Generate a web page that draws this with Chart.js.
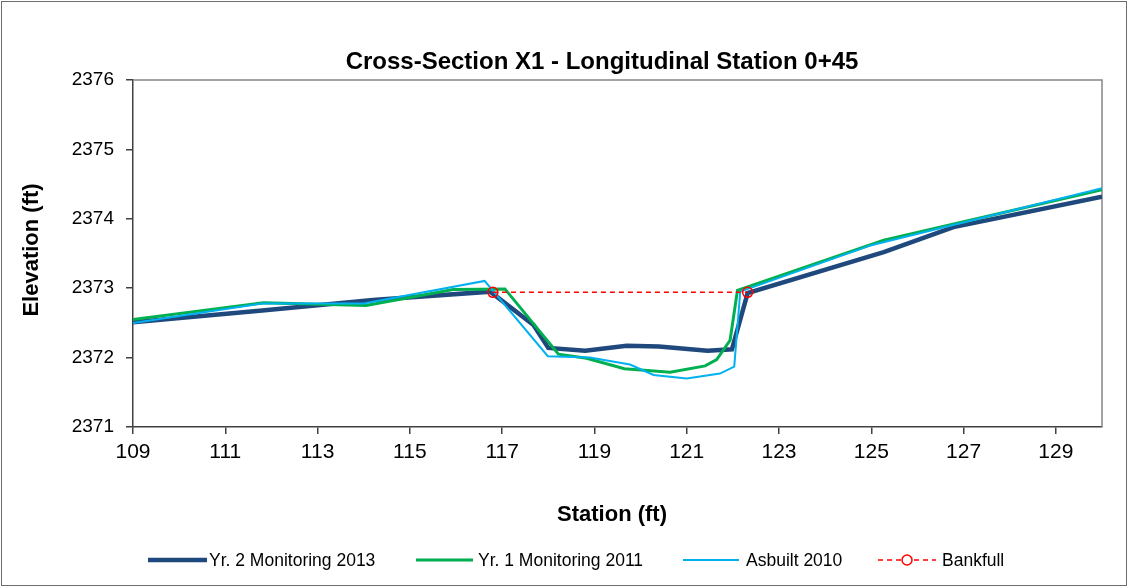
<!DOCTYPE html>
<html>
<head>
<meta charset="utf-8">
<script src="https://cdn.jsdelivr.net/npm/chart.js@4/dist/chart.umd.min.js"></script>
<style>
  html, body { margin: 0; padding: 0; background: #fff; }
  canvas { display: block; }
</style>
</head>
<body>
<canvas id="myChart" width="1128" height="587"></canvas>
<script>
// station (ft) / elevation (ft)
const yr2Station = [109, 111.8, 114.2, 116.74, 117.68, 118.0, 118.8, 119.7, 120.4, 121.45, 121.98, 122.32, 125.27, 126.78, 130];
const yr2Elev    = [2372.51, 2372.68, 2372.83, 2372.95, 2372.47, 2372.14, 2372.10, 2372.17, 2372.16, 2372.10, 2372.12, 2372.93, 2373.52, 2373.88, 2374.32];

const yr1Station = [109, 111.83, 114.05, 115.94, 117.06, 118.22, 118.83, 119.65, 120.64, 121.4, 121.65, 121.94, 122.1, 125.27, 130];
const yr1Elev    = [2372.55, 2372.79, 2372.75, 2372.98, 2372.99, 2372.05, 2371.99, 2371.84, 2371.79, 2371.88, 2371.97, 2372.25, 2372.97, 2373.69, 2374.42];

const asbuiltStation = [109, 111.8, 114.0, 116.62, 117.99, 118.9, 119.77, 120.28, 121.0, 121.72, 122.03, 122.16, 125.0, 130];
const asbuiltElev    = [2372.50, 2372.78, 2372.78, 2373.105, 2372.02, 2372.00, 2371.90, 2371.75, 2371.70, 2371.77, 2371.87, 2372.95, 2373.62, 2374.44];

const bankfullStation = [116.8, 122.32];
const bankfullElev    = [2372.94, 2372.94];

const xTicks = [109, 111, 113, 115, 117, 119, 121, 123, 125, 127, 129];
const yTicks = [2371, 2372, 2373, 2374, 2375, 2376];

const seriesNames = ["Yr. 2 Monitoring 2013", "Yr. 1 Monitoring 2011", "Asbuilt 2010", "Bankfull"];

const FONT = "'Liberation Sans', Arial, sans-serif";

function pts(xs, ys) {
    const out = [];
    for (let i = 0; i < xs.length; i++) out.push({x: xs[i], y: ys[i]});
    return out;
}

const extras = {
    id: "extras",
    beforeDatasetsDraw(chart) {
        const {ctx, chartArea: a} = chart;
        ctx.save();
        ctx.strokeStyle = "#868686";
        ctx.lineWidth = 1.5;
        ctx.beginPath();
        ctx.moveTo(a.left, a.top);
        ctx.lineTo(a.right, a.top);
        ctx.lineTo(a.right, a.bottom);
        ctx.stroke();
        ctx.restore();
    },
    afterDraw(chart) {
        const ctx = chart.ctx;
        ctx.save();
        // outer border
        ctx.strokeStyle = "#6e6e6e";
        ctx.lineWidth = 1;
        ctx.strokeRect(1.5, 1.5, 1125, 584);

        ctx.fillStyle = "#000";
        ctx.textAlign = "center";
        ctx.textBaseline = "middle";
        ctx.font = "bold 24px " + FONT;
        ctx.fillText("Cross-Section X1 - Longitudinal Station 0+45", 602, 62);
        ctx.font = "bold 22px " + FONT;
        ctx.fillText("Station (ft)", 612, 515);
        ctx.save();
        ctx.translate(32, 250);
        ctx.rotate(-Math.PI / 2);
        ctx.fillText("Elevation (ft)", 0, 0);
        ctx.restore();

        // legend
        const ly = 560;
        const items = [
            {x1: 148, x2: 207, tx: 209, color: "#1F497D", w: 4.5},
            {x1: 416, x2: 473, tx: 478, color: "#00B050", w: 3},
            {x1: 683, x2: 739, tx: 746, color: "#00B0F0", w: 2},
            {x1: 878, x2: 936, tx: 942, color: "#FF0000", w: 1.5, dash: true}
        ];
        ctx.textAlign = "left";
        ctx.font = "17.5px " + FONT;
        items.forEach((it, i) => {
            ctx.beginPath();
            ctx.strokeStyle = it.color;
            ctx.lineWidth = it.w;
            ctx.setLineDash(it.dash ? [5, 4] : []);
            ctx.moveTo(it.x1, ly);
            ctx.lineTo(it.x2, ly);
            ctx.stroke();
            ctx.setLineDash([]);
            if (it.dash) {
                ctx.beginPath();
                ctx.arc((it.x1 + it.x2) / 2, ly, 5, 0, Math.PI * 2);
                ctx.fillStyle = "#fff";
                ctx.fill();
                ctx.stroke();
            }
            ctx.fillStyle = "#000";
            ctx.fillText(seriesNames[i], it.tx, ly + 1);
        });
        ctx.restore();
    }
};

new Chart(document.getElementById("myChart"), {
    type: "line",
    data: {
        datasets: [{
            label: seriesNames[0],
            data: pts(yr2Station, yr2Elev),
            borderColor: "#1F497D",
            borderWidth: 4.5,
            pointRadius: 0,
            order: 4
        }, {
            label: seriesNames[1],
            data: pts(yr1Station, yr1Elev),
            borderColor: "#00B050",
            borderWidth: 3,
            pointRadius: 0,
            order: 3
        }, {
            label: seriesNames[2],
            data: pts(asbuiltStation, asbuiltElev),
            borderColor: "#00B0F0",
            borderWidth: 2,
            pointRadius: 0,
            order: 2
        }, {
            label: seriesNames[3],
            data: pts(bankfullStation, bankfullElev),
            borderColor: "#FF0000",
            borderWidth: 1.5,
            borderDash: [5, 4],
            pointRadius: 5,
            pointBorderColor: "#FF0000",
            pointBorderWidth: 1.5,
            pointBackgroundColor: "rgba(0,0,0,0)",
            order: 1
        }]
    },
    options: {
        responsive: false,
        animation: false,
        devicePixelRatio: 1,
        layout: { padding: { top: 80, right: 26, left: 0, bottom: 0 } },
        elements: { line: { tension: 0, fill: false } },
        plugins: { legend: { display: false }, tooltip: { enabled: false } },
        scales: {
            x: {
                type: "linear",
                min: 109,
                max: 130,
                afterBuildTicks: s => { s.ticks = xTicks.map(v => ({value: v})); },
                afterFit: s => { s.height = 160; },
                grid: { drawOnChartArea: false, tickLength: 7, color: "#404040", lineWidth: 1.5 },
                border: { color: "#404040", width: 1.5 },
                ticks: { autoSkip: false, maxRotation: 0, padding: 6, color: "#000", font: { family: FONT, size: 21 } }
            },
            y: {
                min: 2371,
                max: 2376,
                afterBuildTicks: s => { s.ticks = yTicks.map(v => ({value: v})); },
                afterFit: s => { s.width = 133; },
                grid: { drawOnChartArea: false, tickLength: 7, color: "#404040", lineWidth: 1.5 },
                border: { color: "#404040", width: 1.5 },
                ticks: { padding: 12, color: "#000", font: { family: FONT, size: 19 }, callback: v => String(v) }
            }
        }
    },
    plugins: [extras]
});
</script>
</body>
</html>
